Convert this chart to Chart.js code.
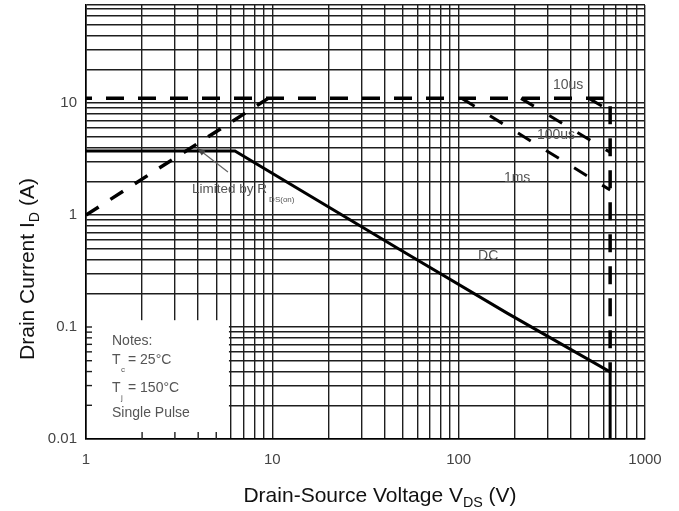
<!DOCTYPE html>
<html>
<head>
<meta charset="utf-8">
<script src="https://cdn.jsdelivr.net/npm/chart.js@4.4.1/dist/chart.umd.min.js"></script>
<style>
  html, body { margin: 0; padding: 0; background: #fff; }
  #wrap { width: 679px; height: 511px; position: relative; }
</style>
</head>
<body>
<div id="wrap"><canvas id="soa"></canvas></div>
<script>
// Safe operating area
const xTickLabels = ['1', '10', '100', '1000'];
const yTickLabels = ['0.01', '0.1', '1', '10'];

// outer pulse limit (10us): Idm then Vdss
const limitV = [1, 650, 650];
const limitI = [11, 11, 0.04];
// Rds(on) limit
const rdsV = [1, 9.5];
const rdsI = [1.0, 11];
// DC
const dcV = [1, 6.3, 48.5, 182, 650, 650];
const dcI = [3.73, 3.73, 0.49, 0.133, 0.0397, 0.01];
// pulse branches
const us10V = [500, 650];
const us10I = [11, 8.5];
const us100V = [216, 650];
const us100I = [11, 3.63];
const ms1V = [104, 650];
const ms1I = [11, 1.67];
// "Limited by" pointer
const arrowV = [3.94, 5.78];
const arrowI = [3.97, 2.42];

// curve labels
const curveLabels = ['10us', '100us', '1ms', 'DC'];
const curveLabelV = [387, 333, 206, 144];
const curveLabelI = [14.5, 5.18, 2.14, 0.43];

const FONT = "'Liberation Sans', Arial, sans-serif";
const GRID = '#1e1e1e';
const TEXT = '#555';

const xMin = 1, xMax = 1000, yMin = 0.01, yMax = 75;
const notesBox = { vMax: 5.85, iMax: 0.115 };

function pts(xs, ys) {
    return xs.map((v, i) => ({ x: v, y: ys[i] }));
}

function logTicks(min, max) {
    const out = [];
    const e0 = Math.floor(Math.log10(min));
    const e1 = Math.ceil(Math.log10(max));
    for (let e = e0; e <= e1; e++) {
        for (let m = 1; m <= 9; m++) {
            const v = Number((m * Math.pow(10, e)).toPrecision(6));
            if (v >= min * 0.999 && v <= max * 1.001) out.push({ value: v });
        }
    }
    if (out[out.length - 1].value < max) out.push({ value: max });
    return out;
}

function line(ctx, x0, y0, x1, y1) {
    ctx.beginPath();
    ctx.moveTo(x0, y0);
    ctx.lineTo(x1, y1);
    ctx.stroke();
}

// text with a lowered subscript part
function subText(ctx, x, y, parts, size, align) {
    const widths = parts.map(p => {
        ctx.font = (p.sub ? size * 0.68 : size) + 'px ' + FONT;
        return ctx.measureText(p.t).width;
    });
    const total = widths.reduce((a, b) => a + b, 0);
    let cx = align === 'center' ? x - total / 2 : x;
    parts.forEach((p, i) => {
        ctx.font = (p.sub ? size * 0.68 : size) + 'px ' + FONT;
        ctx.fillText(p.t, cx, y + (p.sub ? size * 0.25 : 0));
        cx += widths[i];
    });
}

const soaPlugin = {
    id: 'soaExtras',
    beforeDatasetsDraw(chart) {
        const { ctx, chartArea: a, scales: { x, y } } = chart;
        const right = x.getPixelForValue(notesBox.vMax);
        const top = y.getPixelForValue(notesBox.iMax);
        ctx.save();
        ctx.fillStyle = '#fff';
        ctx.fillRect(a.left + 1, top, right - a.left - 1, a.bottom - top - 1);
        ctx.strokeStyle = GRID;
        ctx.lineWidth = 1.4;
        y.ticks.forEach(t => {
            const py = y.getPixelForValue(t.value);
            if (py > top && py < a.bottom - 1) line(ctx, a.left, py, a.left + 6, py);
        });
        x.ticks.forEach(t => {
            const px = x.getPixelForValue(t.value);
            if (px > a.left + 1 && px < right) line(ctx, px, a.bottom, px, a.bottom - 7);
        });
        ctx.restore();
    },
    afterDatasetsDraw(chart) {
        const { ctx, chartArea: a, scales: { x, y } } = chart;
        ctx.save();
        ctx.fillStyle = TEXT;
        ctx.textBaseline = 'middle';
        ctx.textAlign = 'center';
        ctx.font = '14px ' + FONT;
        curveLabels.forEach((s, i) => {
            ctx.fillText(s, x.getPixelForValue(curveLabelV[i]), y.getPixelForValue(curveLabelI[i]));
        });

        // arrow head on the Rds pointer
        const ax = x.getPixelForValue(arrowV[0]), ay = y.getPixelForValue(arrowI[0]);
        const bx = x.getPixelForValue(arrowV[1]), by = y.getPixelForValue(arrowI[1]);
        const ang = Math.atan2(ay - by, ax - bx);
        ctx.fillStyle = '#444';
        ctx.beginPath();
        ctx.moveTo(ax, ay);
        ctx.lineTo(ax - 9 * Math.cos(ang - 0.35), ay - 9 * Math.sin(ang - 0.35));
        ctx.lineTo(ax - 9 * Math.cos(ang + 0.35), ay - 9 * Math.sin(ang + 0.35));
        ctx.closePath();
        ctx.fill();

        ctx.fillStyle = TEXT;
        ctx.textAlign = 'left';
        ctx.textBaseline = 'alphabetic';
        const lx = x.getPixelForValue(3.71), ly = y.getPixelForValue(1.74) + 5;
        ctx.font = '13.5px ' + FONT;
        ctx.fillText('Limited by R', lx, ly);
        const w = ctx.measureText('Limited by R').width;
        ctx.font = '8px ' + FONT;
        ctx.fillText('DS(on)', lx + w + 2, ly + 9);

        // notes
        const nx = a.left + 26;
        ctx.font = '14px ' + FONT;
        ctx.fillText('Notes:', nx, a.bottom - 94);
        ctx.fillText('T', nx, a.bottom - 75);
        ctx.fillText('= 25°C', nx + 16, a.bottom - 75);
        ctx.fillText('T', nx, a.bottom - 47);
        ctx.fillText('= 150°C', nx + 16, a.bottom - 47);
        ctx.fillText('Single Pulse', nx, a.bottom - 22);
        ctx.font = '8px ' + FONT;
        ctx.fillText('c', nx + 9, a.bottom - 67);
        ctx.fillText('j', nx + 9, a.bottom - 39);
        ctx.restore();
    },
    afterDraw(chart) {
        const { ctx } = chart;
        ctx.save();
        ctx.fillStyle = '#111';
        ctx.textBaseline = 'alphabetic';
        subText(ctx, 380, 502, [{ t: 'Drain-Source Voltage V' }, { t: 'DS', sub: true }, { t: ' (V)' }], 21, 'center');
        ctx.translate(34, 269);
        ctx.rotate(-Math.PI / 2);
        subText(ctx, 0, 0, [{ t: 'Drain Current I' }, { t: 'D', sub: true }, { t: ' (A)' }], 21, 'center');
        ctx.restore();
    }
};

const dashed = { borderColor: '#000', pointRadius: 0, showLine: true, fill: false, tension: 0 };

new Chart(document.getElementById('soa'), {
    type: 'scatter',
    data: {
        datasets: [
            { ...dashed, data: pts(dcV, dcI), borderWidth: 3 },
            { ...dashed, data: pts(limitV, limitI), borderWidth: 3.5, borderDash: [18, 14], borderDashOffset: 12 },
            { ...dashed, data: pts(rdsV, rdsI), borderWidth: 3.5, borderDash: [15, 14] },
            { ...dashed, data: pts(us10V, us10I), borderWidth: 3, borderDash: [15, 18] },
            { ...dashed, data: pts(us100V, us100I), borderWidth: 3, borderDash: [15, 18] },
            { ...dashed, data: pts(ms1V, ms1I), borderWidth: 3, borderDash: [15, 18] },
            { ...dashed, data: pts(arrowV, arrowI), borderWidth: 1.2, borderColor: '#666' }
        ]
    },
    options: {
        responsive: true,
        maintainAspectRatio: false,
        animation: false,
        events: [],
        layout: { padding: { left: 0, right: 34, top: 5, bottom: 0 } },
        plugins: { legend: { display: false }, tooltip: { enabled: false } },
        scales: {
            x: {
                type: 'logarithmic',
                min: xMin,
                max: xMax,
                afterBuildTicks: s => { s.ticks = logTicks(xMin, xMax); },
                afterFit: s => { s.height = 72; s.paddingLeft = 0; s.paddingRight = 0; },
                grid: { color: GRID, lineWidth: 1.4, drawTicks: false },
                border: { display: true, color: '#000', width: 1.6 },
                ticks: {
                    autoSkip: false,
                    maxRotation: 0,
                    padding: 12,
                    color: '#444',
                    font: { family: FONT, size: 15 },
                    callback: v => (xTickLabels.includes(String(v)) ? String(v) : '')
                }
            },
            y: {
                type: 'logarithmic',
                min: yMin,
                max: yMax,
                afterBuildTicks: s => { s.ticks = logTicks(yMin, yMax); },
                afterFit: s => { s.width = 86; s.paddingTop = 0; s.paddingBottom = 0; },
                grid: { color: GRID, lineWidth: 1.4, drawTicks: false },
                border: { display: true, color: '#000', width: 1.6 },
                ticks: {
                    autoSkip: false,
                    padding: 9,
                    color: '#444',
                    font: { family: FONT, size: 15 },
                    callback: v => (yTickLabels.includes(String(v)) ? String(v) : '')
                }
            }
        }
    },
    plugins: [soaPlugin]
});
</script>
</body>
</html>
